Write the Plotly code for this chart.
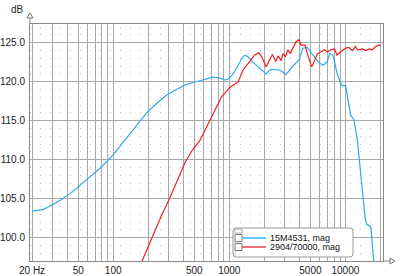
import plotly.graph_objects as go
import math

# ---- data ----
blue_f = [20, 25, 28, 35, 44, 55, 65, 77, 100, 126, 160, 194, 240, 289, 350, 420, 490, 560, 650, 728,
          820, 918, 1000, 1100, 1200, 1300, 1365, 1450, 1550, 1723, 1900, 2074, 2200, 2335, 2500, 2704,
          2900, 3056, 3200, 3388, 3700, 3980, 4150, 4310, 4690, 5000, 5380, 5800, 6360, 6700, 7000, 7320,
          7830, 8100, 8470, 9000, 9390, 10050, 10500, 11110, 11870, 12700, 13500, 14290, 14800, 15300,
          16570, 17680]
blue_db = [103.4, 103.6, 104.0, 104.8, 105.8, 107.0, 107.9, 108.9, 110.6, 112.5, 114.5, 116.0, 117.3,
           118.3, 119.0, 119.6, 119.9, 120.1, 120.4, 120.6, 120.5, 120.2, 120.4, 121.2, 122.2, 123.1,
           123.4, 123.2, 122.7, 122.1, 121.6, 121.0, 121.4, 121.6, 121.5, 121.5, 121.2, 120.9, 121.2,
           121.7, 122.3, 122.8, 123.6, 124.3, 124.4, 123.9, 123.2, 122.6, 122.1, 122.3, 122.6, 123.6,
           123.4, 122.5, 121.1, 120.0, 119.5, 119.5, 118.0, 115.7, 115.1, 112.5, 108.5, 104.9, 102.5,
           101.7, 101.4, 96.5]

red_f = [175, 182, 214, 260, 308, 360, 415, 480, 560, 638, 753, 861, 1000, 1100, 1195, 1315, 1500, 1650,
         1787, 1910, 2074, 2240, 2350, 2520, 2630, 2800, 2900, 3050, 3200, 3350, 3560, 3750, 3990, 4140,
         4500, 4690, 5140, 5380, 5750, 6160, 6600, 7040, 7480, 8070, 8470, 9030, 10050, 10700, 11500,
         12210, 12750, 14080, 15060, 16050, 17080, 18230, 19480, 20000]
red_db = [96.8, 97.4, 100.0, 102.8, 105.1, 107.5, 109.6, 111.2, 112.5, 114.2, 116.4, 118.1, 119.2, 119.6,
          120.0, 121.5, 122.6, 123.4, 123.7, 123.2, 121.9, 123.0, 123.5, 122.6, 123.3, 122.7, 123.6,
          123.2, 124.1, 123.6, 124.5, 125.1, 125.4, 124.7, 124.7, 123.6, 121.9, 122.6, 123.6, 123.8,
          124.1, 123.8, 124.1, 124.2, 123.4, 123.8, 124.3, 124.4, 124.0, 124.5, 124.1, 124.2, 124.0,
          124.2, 124.1, 124.5, 124.7, 124.6]

x_tickvals = [20, 50, 100, 500, 1000, 5000, 10000]
x_ticktext = ["20 Hz", "50", "100", "500", "1000", "5000", "10000"]
y_tickvals = [100, 105, 110, 115, 120, 125]

series_names = ["15M4531, mag", "2904/70000, mag"]
series_colors = ["#2ea9ec", "#f02020"]
legend_colors = ["#6cc8f4", "#e81818"]

grid_vals = [m * 10 ** e for e in range(1, 5) for m in range(1, 10) if 20 <= m * 10 ** e <= 20000]

fig = go.Figure()
fig.add_trace(go.Scatter(x=blue_f, y=blue_db, mode="lines", name=series_names[0],
                         line=dict(color=series_colors[0], width=1.2)))
fig.add_trace(go.Scatter(x=red_f, y=red_db, mode="lines", name=series_names[1],
                         line=dict(color=series_colors[1], width=1.2)))

W, H = 400, 276
L, R, T, B = 30, 17, 24, 15

fig.update_layout(
    width=W, height=H,
    margin=dict(l=L, r=R, t=T, b=B, pad=0, autoexpand=False),
    paper_bgcolor="white", plot_bgcolor="white",
    font=dict(family="Liberation Sans, Arial, sans-serif", size=10, color="#222"),
    showlegend=False,
    xaxis=dict(type="log", range=[math.log10(19.2), math.log10(21100)], automargin=False,
               tickmode="array", tickvals=x_tickvals, ticktext=x_ticktext,
               showgrid=True, gridcolor="#a8a8a8", gridwidth=1,
               minor=dict(tickmode="array", tickvals=grid_vals, showgrid=True,
                          gridcolor="#a8a8a8", gridwidth=1, ticks=""),
               ticks="", ticklabelstandoff=0, showline=True, linecolor="#888", mirror=True,
               zeroline=False, tickfont=dict(size=10, color="#222")),
    yaxis=dict(range=[97.0, 127.4], tickmode="array", tickvals=y_tickvals, automargin=False,
               tickformat=".1f", showgrid=True, gridcolor="#a8a8a8", gridwidth=1,
               minor=dict(dtick=1, showgrid=True, gridcolor="#c4c4c4",
                          griddash="1px,9px", gridwidth=1, ticks=""),
               ticks="", ticklabelstandoff=2, showline=True, linecolor="#888", mirror=True,
               zeroline=False, tickfont=dict(size=10, color="#222")),
)

def px2paper_x(px):
    return (px - L) / (W - L - R)

def px2paper_y(py):
    return (H - B - py) / (H - T - B)

px = px2paper_x
py = px2paper_y

# axis extensions with arrow heads
fig.add_shape(type="line", xref="paper", yref="paper",
              x0=px(30), x1=px(30), y0=1, y1=py(16),
              line=dict(color="#888", width=1))
fig.add_shape(type="path", xref="paper", yref="paper",
              path=f"M {px(27)} {py(18)} L {px(33)} {py(18)} L {px(30)} {py(13)} Z",
              line=dict(color="#777", width=1), fillcolor="white")
fig.add_shape(type="line", xref="paper", yref="paper",
              x0=1, x1=px(390), y0=0, y1=0,
              line=dict(color="#888", width=1))
fig.add_shape(type="path", xref="paper", yref="paper",
              path=f"M {px(390)} {py(258)} L {px(390)} {py(264)} L {px(395)} {py(261)} Z",
              line=dict(color="#777", width=1), fillcolor="white")

# "dB" unit label at the top-left, above the y axis
fig.add_annotation(text="dB", xref="paper", yref="paper",
                   x=0, y=1, xshift=-13, yshift=15, showarrow=False,
                   font=dict(size=10, color="#222"), xanchor="center", yanchor="middle")

# ---- custom legend (box with check squares, line samples, labels) ----
lx0, lx1, ly0, ly1 = 233, 353, 228, 257
r = 3
box_path = (f"M {px(lx0 + r)} {py(ly0)} L {px(lx1 - r)} {py(ly0)} "
            f"Q {px(lx1)} {py(ly0)} {px(lx1)} {py(ly0 + r)} "
            f"L {px(lx1)} {py(ly1 - r)} Q {px(lx1)} {py(ly1)} {px(lx1 - r)} {py(ly1)} "
            f"L {px(lx0 + r)} {py(ly1)} Q {px(lx0)} {py(ly1)} {px(lx0)} {py(ly1 - r)} "
            f"L {px(lx0)} {py(ly0 + r)} Q {px(lx0)} {py(ly0)} {px(lx0 + r)} {py(ly0)} Z")
fig.add_shape(type="path", xref="paper", yref="paper", path=box_path,
              line=dict(color="#999", width=1), fillcolor="white", layer="above")
fig.add_shape(type="rect", xref="paper", yref="paper",
              x0=px(235), x1=px(242), y0=py(229), y1=py(233),
              line=dict(color="#aaa", width=1), fillcolor="white", layer="above")
row_y = [238, 247]
for i, yy in enumerate(row_y):
    fig.add_shape(type="rect", xref="paper", yref="paper",
                  x0=px(235), x1=px(242), y0=py(yy - 3.5), y1=py(yy + 3.5),
                  line=dict(color="#777", width=1), fillcolor="white", layer="above")
    fig.add_shape(type="line", xref="paper", yref="paper",
                  x0=px(242), x1=px(266), y0=py(yy), y1=py(yy),
                  line=dict(color=legend_colors[i], width=2 if i == 0 else 1.2), layer="above")
    fig.add_annotation(text=series_names[i], xref="paper", yref="paper",
                       x=px(269), y=py(yy), showarrow=False, xanchor="left", yanchor="middle",
                       font=dict(size=9, color="#111"), borderpad=0)
fig.add_shape(type="line", xref="paper", yref="paper",
              x0=px(235), x1=px(235), y0=py(233), y1=py(256),
              line=dict(color="#bbb", width=1), layer="above")

fig.write_html("out.html")
